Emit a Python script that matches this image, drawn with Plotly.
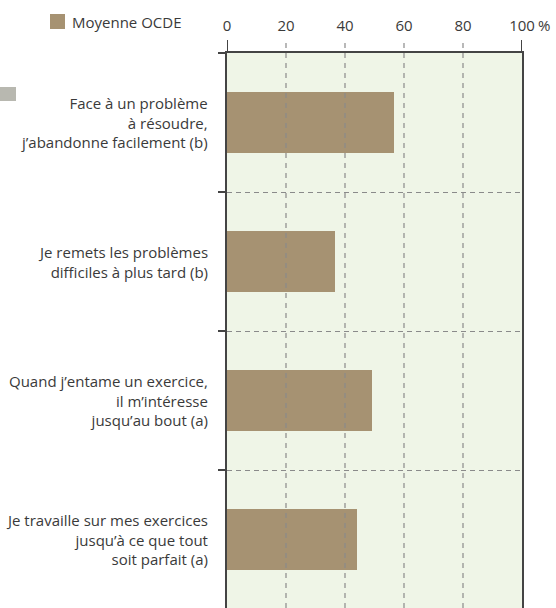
import plotly.graph_objects as go

categories = [
    "Face à un problème<br>à résoudre,<br>j’abandonne facilement (b)",
    "Je remets les problèmes<br>difficiles à plus tard (b)",
    "Quand j’entame un exercice,<br>il m’intéresse<br>jusqu’au bout (a)",
    "Je travaille sur mes exercices<br>jusqu’à ce que tout<br>soit parfait (a)",
]
values = [56.6, 36.6, 49.2, 44.0]
series_name = "Moyenne OCDE"
tick_vals = [0, 20, 40, 60, 80, 100]
tick_text = ["0", "20", "40", "60", "80", "100"]

W, H = 556, 608
ML, MR, MT, MB = 227, 34, 53, 0
PW = W - ML - MR
PH = H - MT - MB

def px_x(p):
    return (p - ML) / PW

def px_y(p):
    return 1 - (p - MT) / PH

BAR = "#a69272"
BG = "#eff5e7"
TXT = "#3a3a3a"
FONT = "Open Sans"
FS = 15

pos = list(range(len(categories)))

fig = go.Figure()
fig.add_trace(go.Bar(
    y=pos, x=values, orientation="h", name=series_name,
    marker=dict(color=BAR, line=dict(width=0)), width=0.435,
    showlegend=False, hoverinfo="x",
))

shapes = []
for v in tick_vals:
    if v in (0, 100):
        shapes.append(dict(type="line", xref="x", yref="paper", x0=v, x1=v,
                           y0=1, y1=px_y(40), line=dict(color="#444444", width=2)))
    else:
        shapes.append(dict(type="line", xref="x", yref="paper", x0=v, x1=v,
                           y0=0, y1=px_y(40), line=dict(color="#8a8a8a", width=1.2, dash="5px,5px")))
shapes.append(dict(type="rect", xref="paper", yref="paper",
                   x0=px_x(50), x1=px_x(65), y0=px_y(29), y1=px_y(14),
                   fillcolor=BAR, line=dict(width=0)))
shapes.append(dict(type="rect", xref="paper", yref="paper",
                   x0=px_x(0), x1=px_x(16), y0=px_y(101), y1=px_y(87),
                   fillcolor="#b8b8b0", line=dict(width=0)))

annotations = []
for i, c in enumerate(categories):
    annotations.append(dict(xref="paper", yref="y", x=px_x(210), y=i,
                            text=c, showarrow=False, xanchor="right", yanchor="middle",
                            align="right", font=dict(family=FONT, size=FS, color=TXT)))
annotations.append(dict(xref="paper", yref="paper", x=px_x(70), y=px_y(22),
                        text=series_name, showarrow=False, xanchor="left", yanchor="middle",
                        font=dict(family=FONT, size=FS, color=TXT)))
annotations.append(dict(xref="x", yref="paper", x=100, y=px_y(25), xshift=14,
                        text="%", showarrow=False, xanchor="left", yanchor="middle",
                        font=dict(family=FONT, size=FS, color=TXT)))

top = -0.5
unit = 139.0
bottom = top + PH / unit

fig.update_layout(
    width=W, height=H,
    margin=dict(l=ML, r=MR, t=MT, b=MB, pad=0, autoexpand=False),
    paper_bgcolor="white", plot_bgcolor=BG,
    font=dict(family=FONT, size=FS, color=TXT),
    shapes=shapes, annotations=annotations,
    bargap=0,
    xaxis=dict(range=[0, 100], side="top", tickvals=tick_vals, ticktext=tick_text,
               ticks="outside", ticklen=14, tickcolor="rgba(0,0,0,0)",
               showgrid=False, zeroline=False, automargin=False,
               showline=True, linecolor="#444444", linewidth=1.5,
               tickfont=dict(family=FONT, size=FS, color=TXT), fixedrange=True),
    yaxis=dict(range=[bottom, top], tickvals=[-0.5, 0.5, 1.5, 2.5], ticktext=["", "", "", ""],
               ticks="outside", ticklen=7, tickcolor="#444444", tickwidth=1.5,
               showgrid=True, gridcolor="#8a8a8a", gridwidth=1.2, griddash="5px,4px",
               zeroline=False, showline=True, linecolor="#444444", linewidth=2,
               mirror=True, fixedrange=True, automargin=False),
)

fig.write_html("out.html", config={"displayModeBar": False},
               post_script="document.body.style.margin='0px';")
